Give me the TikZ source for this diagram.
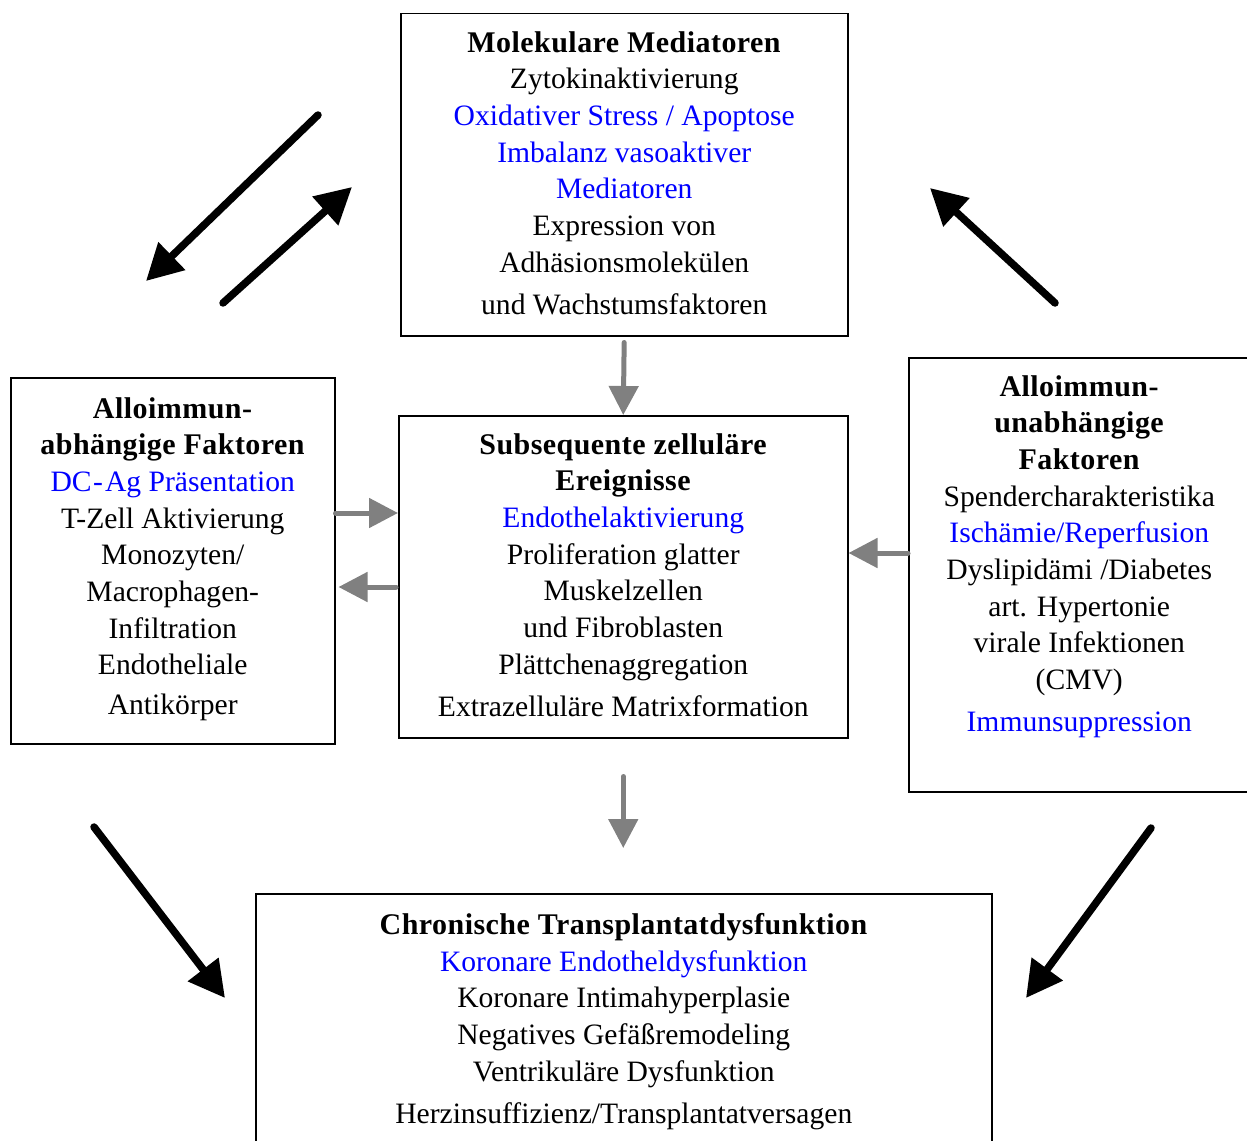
\documentclass[tikz,border=0pt]{standalone}
\usepackage{fontspec}
\setmainfont{Liberation Serif}[BoldFeatures={LetterSpace=1.5, Scale=1.0135}]
\usetikzlibrary{arrows.meta, positioning}
\definecolor{mblue}{RGB}{0,0,255}
\definecolor{mgray}{RGB}{128,128,128}

\tikzset{
  box/.style={draw, line width=1.5pt, inner sep=0pt, anchor=north west},
  txt/.style={align=center, inner sep=0pt, font=\fontsize{29.6}{36.7}\selectfont},
  bigarrow/.style={-{Triangle[length=36pt,width=37pt]}, line width=7.5pt, line cap=round},
  grayarrow/.style={-{Triangle[length=29pt,width=29pt]}, mgray, line width=5pt, line cap=round}
}

\begin{document}
\begin{tikzpicture}[x=1pt, y=-1pt]
\clip (0,0) rectangle (1247,1140);

%the boxes
\node [box, minimum width=447pt, minimum height=322pt] (top) at (400,13) {};
\node [box, minimum width=324pt, minimum height=366pt] (left) at (10,377) {};
\node [box, minimum width=449pt, minimum height=322pt] (mid) at (398,415) {};
\node [box, minimum width=341pt, minimum height=434pt] (right) at (908,357) {};
\node [box, minimum width=736pt, minimum height=260pt] (bot) at (255,893) {};

%the texts
\node [txt, below=18pt of top.north] (toptxt) {\textbf{Molekulare Mediatoren}\\
  Zytokinaktivierung\\
  \textcolor{mblue}{Oxidativer Stress / Apoptose}\\
  \textcolor{mblue}{Imbalanz vasoaktiver}\\
  \textcolor{mblue}{Mediatoren}\\
  Expression von\\
  Adhäsionsmolekülen\\[5.3pt]
  und Wachstumsfaktoren};

\node [txt, below=20pt of left.north] (lefttxt) {\textbf{Alloimmun-}\\
  \textbf{abhängige Faktoren}\\
  \textcolor{mblue}{DC\kern1.5pt-\kern2pt Ag Präsentation}\\
  T-Zell Aktivierung\\
  Monozyten/\\
  Macrophagen-\\
  Infiltration\\
  Endotheliale\\[3pt]
  Antikörper};

\node [txt, below=18pt of mid.north] (midtxt) {\textbf{Subsequente zelluläre}\\
  \textbf{Ereignisse}\\
  \textcolor{mblue}{Endothelaktivierung}\\
  Proliferation glatter\\
  Muskelzellen\\
  und Fibroblasten\\
  Plättchenaggregation\\[5.3pt]
  Extrazelluläre Matrixformation};

\node [txt, below=18pt of right.north] (righttxt) {\textbf{Alloimmun-}\\
  \textbf{unabhängige}\\
  \textbf{Faktoren}\\
  Spendercharakteristika\\
  \textcolor{mblue}{Ischämie/Reperfusion}\\
  Dyslipidämi /Diabetes\\
  art. Hypertonie\\
  virale Infektionen\\
  (CMV)\\[5.3pt]
  \textcolor{mblue}{Immunsuppression}};

\node [txt, below=20pt of bot.north] (bottxt) {\textbf{Chronische Transplantatdysfunktion}\\
  \textcolor{mblue}{Koronare Endotheldysfunktion}\\
  Koronare Intimahyperplasie\\
  Negatives Gefäßremodeling\\
  Ventrikuläre Dysfunktion\\[5.3pt]
  Herzinsuffizienz/Transplantatversagen};

%the gray arrows
\draw [grayarrow, shorten <=6pt] (top.south) -- (mid.north);
\draw [grayarrow] (left.east |- 0,513) -- (mid.west |- 0,513);
\draw [grayarrow, shorten <=2pt, shorten >=3pt] (mid.west |- 0,587) -- (left.east |- 0,587);
\draw [grayarrow] (right.west |- 0,553) -- (mid.east |- 0,553);
\draw [grayarrow, shorten <=38pt, shorten >=45pt] (mid.south) -- (mid.south |- bot.north);

%the black arrows
\coordinate (m1) at (318,115);
\coordinate (l1) at (146,281);
\coordinate (l2) at (223,303);
\coordinate (m2) at (352,187);
\coordinate (r1) at (1055,303);
\coordinate (m3) at (930,188);
\coordinate (l3) at (94,827);
\coordinate (b1) at (225,998);
\coordinate (r2) at (1151,828);
\coordinate (b2) at (1026,998);
\draw [bigarrow] (m1) -- (l1);
\draw [bigarrow] (l2) -- (m2);
\draw [bigarrow] (r1) -- (m3);
\draw [bigarrow] (l3) -- (b1);
\draw [bigarrow] (r2) -- (b2);
\end{tikzpicture}
\end{document}
